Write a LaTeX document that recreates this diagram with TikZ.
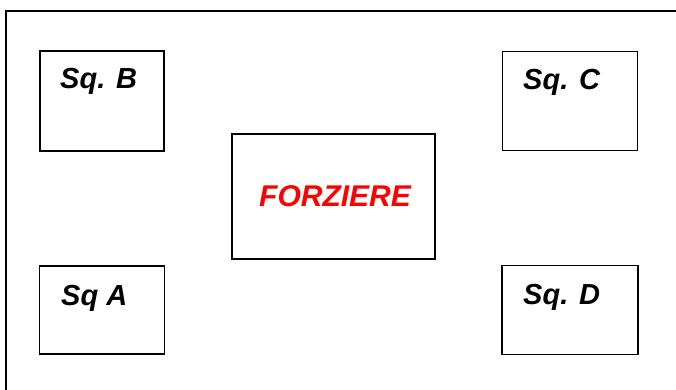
\documentclass[tikz,border=0pt]{standalone}
\usepackage{fontspec}
\setmainfont{Liberation Sans}
\usepackage{xcolor}
\usepackage{tikz}

\tikzset{
    sqbox/.style={draw, line width=1.5pt, inner sep=0pt},
    sqlabel/.style={font=\fontsize{29}{34}\selectfont\bfseries\itshape, inner sep=0pt, anchor=base west},
}

\begin{document}
\begin{tikzpicture}[x=1pt, y=-1pt]
    \useasboundingbox (0, 0) rectangle (676, 389);
    \draw[line width=1.6pt] (6, 400) -- (6, 11) -- (690, 11);

    \node[sqbox, minimum width=124pt, minimum height=100pt] at (102, 101) (sqB) {};
    \node[sqbox, minimum width=135pt, minimum height=99pt] at (570, 101) (sqC) {};
    \node[sqbox, minimum width=125pt, minimum height=88pt] at (102, 310) (sqA) {};
    \node[sqbox, minimum width=136pt, minimum height=89pt] at (570, 310) (sqD) {};
    \node[sqbox, minimum width=203pt, minimum height=125pt] at (333.5, 196.5) (forziere) {};

    \node[sqlabel] at (60, 88) (labB) {Sq. B};
    \node[sqlabel] at (523, 89) (labC) {Sq. C};
    \node[sqlabel] at (61, 305) (labA) {Sq A};
    \node[sqlabel] at (523, 304) (labD) {Sq. D};
    \node[sqlabel, red, font=\fontsize{30}{35}\selectfont\bfseries\itshape] at (259, 206) (labF) {FORZIERE};
\end{tikzpicture}
\end{document}
